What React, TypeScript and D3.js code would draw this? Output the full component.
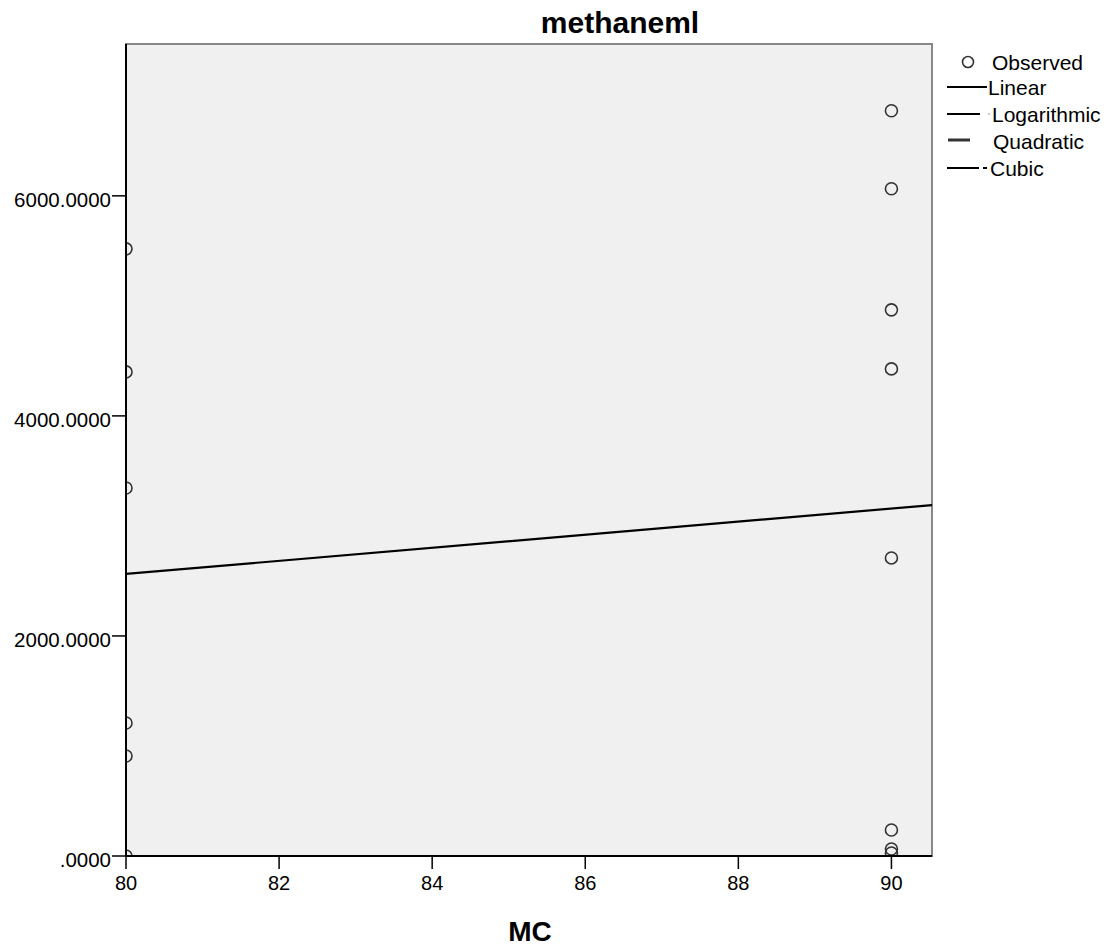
import React from "react";
import * as d3 from "d3";

const title = "methaneml";
const xLabel = "MC";
const obsX = [80, 80, 80, 80, 80, 80, 90, 90, 90, 90, 90, 90, 90, 90];
const obsY = [5518, 4400, 3345, 1209, 909, 0, 6773, 6064, 4964, 4427, 2709, 236, 64, 27];
const xTicks = [80, 82, 84, 86, 88, 90];
const yTicks = [0, 2000, 4000, 6000];
const xDomain = [80, 90.53];
const yDomain = [0, 7380];
const legendItems = ["Observed", "Linear", "Logarithmic", "Quadratic", "Cubic"];

const W = 1110, H = 951;
const L = 126, R = 932, T = 44, B = 856;
const FONT = "Arial, 'Liberation Sans', sans-serif";

function fmtY(v: number) {
  const s = v.toFixed(4);
  return s.startsWith("0") ? s.slice(1) : s;
}

export default function App() {
  const x = d3.scaleLinear().domain(xDomain).range([L, R]);
  const y = d3.scaleLinear().domain(yDomain).range([B, T]);

  const n = obsX.length;
  const mx = d3.mean(obsX)!;
  const my = d3.mean(obsY)!;
  let sxy = 0, sxx = 0;
  for (let i = 0; i < n; i++) {
    sxy += (obsX[i] - mx) * (obsY[i] - my);
    sxx += (obsX[i] - mx) ** 2;
  }
  const slope = sxy / sxx;
  const icpt = my - slope * mx;
  const fit = xDomain.map((v) => [v, icpt + slope * v] as [number, number]);
  const line = d3.line<[number, number]>().x((d) => x(d[0])).y((d) => y(d[1]));

  return (
    <svg width={W} height={H} style={{ position: "absolute", left: 0, top: 0 }} fontFamily={FONT}>
      <defs>
        <clipPath id="plotclip">
          <rect x={L} y={T} width={R - L} height={B - T} />
        </clipPath>
      </defs>
      <rect x={0} y={0} width={W} height={H} fill="#fff" />
      <text x={620} y={33} textAnchor="middle" fontSize={30} fontWeight="bold" fill="#000">{title}</text>
      <rect x={L} y={T} width={R - L} height={B - T} fill="#f0f0f0" stroke="#888" strokeWidth={2} />
      <g clipPath="url(#plotclip)">
        {obsX.map((v, i) => (
          <circle key={i} cx={x(v)} cy={y(obsY[i])} r={6} fill="none" stroke="#333" strokeWidth={1.6} />
        ))}
        <path d={line(fit) || ""} fill="none" stroke="#000" strokeWidth={2.2} />
      </g>
      <line x1={L} x2={L} y1={T} y2={B} stroke="#000" strokeWidth={2} />
      <line x1={L} x2={R} y1={B} y2={B} stroke="#000" strokeWidth={2} />
      {yTicks.map((t) => (
        <g key={t}>
          <line x1={L - 14} x2={L} y1={y(t)} y2={y(t)} stroke="#000" strokeWidth={1.5} />
          <text x={L - 15} y={y(t) + 11} textAnchor="end" fontSize={20.5} fill="#000">{fmtY(t)}</text>
        </g>
      ))}
      {xTicks.map((t) => (
        <g key={t}>
          <line x1={x(t)} x2={x(t)} y1={B} y2={B + 13} stroke="#000" strokeWidth={1.5} />
          <text x={x(t)} y={B + 34} textAnchor="middle" fontSize={20} fill="#000">{t}</text>
        </g>
      ))}
      <text x={530} y={941} textAnchor="middle" fontSize={28} fontWeight="bold" fill="#000">{xLabel}</text>
      <g fontSize={21} fill="#000">
        <circle cx={968} cy={62} r={5.5} fill="none" stroke="#333" strokeWidth={1.6} />
        <text x={992} y={70}>{legendItems[0]}</text>
        <line x1={947} x2={987} y1={87} y2={87} stroke="#000" strokeWidth={2} />
        <text x={988} y={95}>{legendItems[1]}</text>
        <line x1={947} x2={980} y1={114} y2={114} stroke="#000" strokeWidth={2} />
        <line x1={988} x2={990} y1={114} y2={114} stroke="#999" strokeWidth={1} />
        <text x={992} y={122}>{legendItems[2]}</text>
        <line x1={948} x2={970} y1={140} y2={140} stroke="#333" strokeWidth={3} />
        <text x={993} y={149}>{legendItems[3]}</text>
        <line x1={947} x2={979} y1={168} y2={168} stroke="#000" strokeWidth={2} />
        <line x1={983} x2={987} y1={168} y2={168} stroke="#000" strokeWidth={2} />
        <text x={990} y={176}>{legendItems[4]}</text>
      </g>
    </svg>
  );
}
